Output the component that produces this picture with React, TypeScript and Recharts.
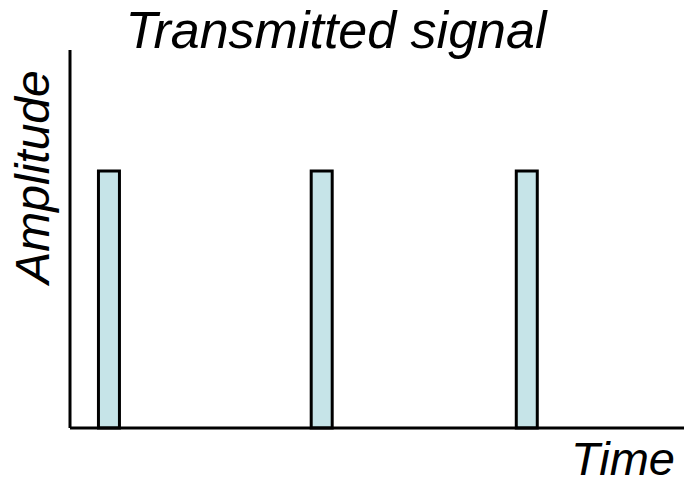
import React from 'react';
import { ComposedChart, Bar, XAxis, YAxis } from 'recharts';

const pulseTimes = [6.35, 41.0, 74.4];
const pulseAmplitudes = [0.68, 0.68, 0.68];
const titleText = 'Transmitted signal';
const xLabelText = 'Time';
const yLabelText = 'Amplitude';

const data = pulseTimes.map((t, i) => ({ t, amp: pulseAmplitudes[i] }));

const font = '"Liberation Sans", Arial, sans-serif';

export default function App() {
  return (
    <div style={{ position: 'absolute', left: 0, top: 0, width: 684, height: 485, background: '#fff' }}>
      <ComposedChart
        width={684}
        height={485}
        data={data}
        margin={{ top: 50, right: 0, bottom: 56, left: 0 }}
      >
        <XAxis
          dataKey="t"
          type="number"
          domain={[0, 100]}
          height={1}
          tick={false}
          tickLine={false}
          axisLine={{ stroke: '#000', strokeWidth: 3 }}
        />
        <YAxis
          type="number"
          domain={[0, 1]}
          width={70}
          tick={false}
          tickLine={false}
          axisLine={{ stroke: '#000', strokeWidth: 3 }}
        />
        <Bar
          dataKey="amp"
          barSize={21}
          fill="#c6e4e8"
          stroke="#000"
          strokeWidth={3}
          isAnimationActive={false}
        />
      </ComposedChart>
      <svg width={684} height={485} style={{ position: 'absolute', left: 0, top: 0, pointerEvents: 'none' }}>
        <text
          x={336}
          y={48}
          textAnchor="middle"
          fontFamily={font}
          fontStyle="italic"
          fontSize={52}
          fill="#000"
        >
          {titleText}
        </text>
        <text
          x={0}
          y={0}
          transform="translate(49,177) rotate(-90)"
          textAnchor="middle"
          fontFamily={font}
          fontStyle="italic"
          fontSize={48}
          fill="#000"
        >
          {yLabelText}
        </text>
        <text
          x={675}
          y={475}
          textAnchor="end"
          fontFamily={font}
          fontStyle="italic"
          fontSize={47}
          fill="#000"
        >
          {xLabelText}
        </text>
      </svg>
    </div>
  );
}
